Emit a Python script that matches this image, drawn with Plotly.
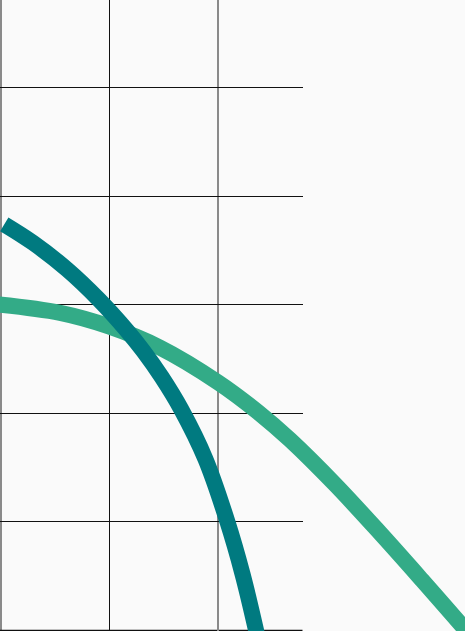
import plotly.graph_objects as go

# Data (x in grid units of 10, y in grid units of 10)
green_x = [-0.5, 5.45, 9.95, 14.65, 20.0, 23.7, 26.65, 30.8, 34.95, 38.8, 42.75, 44.15]
green_y = [30.05, 29.25, 28.0, 26.05, 22.85, 20.1, 17.55, 13.44, 8.96, 4.65, 0.15, -1.45]

teal_x = [0.3, 2.95, 6.1, 9.0, 11.6, 13.1, 14.8, 16.6, 18.85, 20.85, 22.25, 23.5, 23.8]
teal_y = [37.4, 35.7, 33.24, 30.49, 27.63, 25.76, 23.35, 20.38, 15.77, 10.07, 5.24, 0.05, -1.35]

grid_x_major = [0, 20]
grid_x_minor = [10]
grid_y_ticks = [0, 10, 20, 30, 40, 50]

GREEN = "#33ab87"
TEAL = "#007a80"
BG = "#fafafa"
GRID_DARK = "#111111"
GRID_GRAY = "#8a8a8a"

W, H = 465, 631
PX_PER_X = 10.85
PX_PER_Y = 10.86
x0 = -1 / PX_PER_X
x_full_end = x0 + W / PX_PER_X
grid_frac = 302.7 / W
x_grid_end = x0 + 302.7 / PX_PER_X
y0 = -0.5 / PX_PER_Y
y_end = y0 + H / PX_PER_Y

fig = go.Figure()

# empty trace to hold the grid subplot (drawn beneath the curves)
fig.add_trace(go.Scatter(x=[None], y=[None], xaxis="x", yaxis="y",
                         showlegend=False, hoverinfo="skip"))

fig.add_trace(go.Scatter(x=green_x, y=green_y, mode="lines",
                         line=dict(color=GREEN, width=16, shape="spline"),
                         xaxis="x2", yaxis="y2", showlegend=False,
                         hoverinfo="skip"))
fig.add_trace(go.Scatter(x=teal_x, y=teal_y, mode="lines",
                         line=dict(color=TEAL, width=16, shape="spline"),
                         xaxis="x2", yaxis="y2", showlegend=False,
                         hoverinfo="skip"))

# grid lines at the very edges (plotly drops gridlines within 1px of the edge)
fig.add_shape(type="line", xref="x", yref="y", layer="below",
              x0=grid_x_major[0], x1=grid_x_major[0], y0=y0, y1=y_end,
              line=dict(color=GRID_GRAY, width=2))
fig.add_shape(type="line", xref="x", yref="y", layer="below",
              x0=x0, x1=x_grid_end, y0=grid_y_ticks[0], y1=grid_y_ticks[0],
              line=dict(color=GRID_DARK, width=1.5))

fig.update_layout(
    width=W, height=H,
    margin=dict(l=0, r=0, t=0, b=0, pad=0),
    paper_bgcolor=BG, plot_bgcolor="rgba(0,0,0,0)",
    showlegend=False,
    xaxis=dict(domain=[0, grid_frac], range=[x0, x_grid_end],
               tickvals=grid_x_major, showgrid=True, gridcolor=GRID_GRAY,
               gridwidth=2,
               minor=dict(tickvals=grid_x_minor, showgrid=True,
                          gridcolor=GRID_DARK, gridwidth=1),
               showticklabels=False, ticks="", zeroline=False,
               showline=False, fixedrange=True),
    yaxis=dict(domain=[0, 1], range=[y0, y_end], tickvals=grid_y_ticks,
               showgrid=True, gridcolor=GRID_DARK, gridwidth=1,
               showticklabels=False, ticks="", zeroline=False,
               showline=False, fixedrange=True),
    xaxis2=dict(domain=[0, 1], range=[x0, x_full_end], anchor="y2",
                showgrid=False, showticklabels=False, ticks="",
                zeroline=False, showline=False, fixedrange=True),
    yaxis2=dict(domain=[0, 1], range=[y0, y_end], anchor="x2",
                showgrid=False, showticklabels=False, ticks="",
                zeroline=False, showline=False, fixedrange=True),
)

fig.write_html("out.html", config={"displayModeBar": False},
               post_script="document.body.style.margin='0';"
                           "document.body.style.overflow='hidden';")
